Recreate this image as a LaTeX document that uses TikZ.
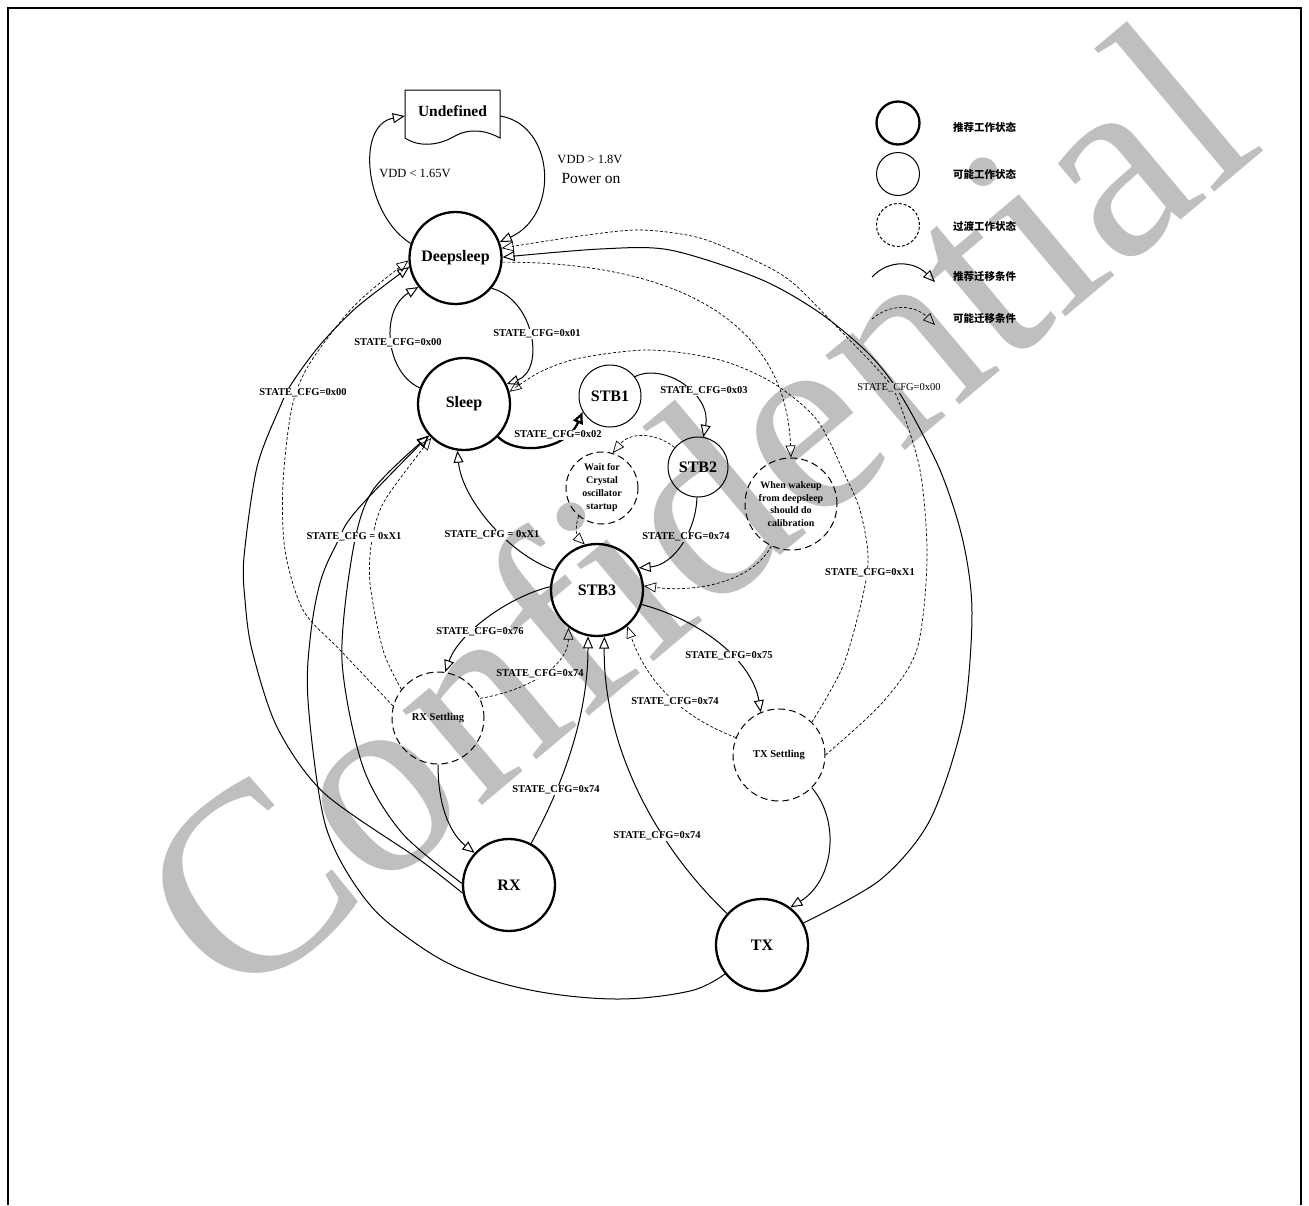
\documentclass[tikz,border=0pt]{standalone}
\usepackage{fontspec}
\setmainfont{Liberation Serif}
\newfontfamily\cjk{Noto Sans CJK SC}
\usetikzlibrary{arrows.meta}

\tikzset{
  recstate/.style={circle, draw, line width=2.3pt, minimum size=92pt, inner sep=0pt,
    font=\bfseries\fontsize{16}{18}\selectfont},
  posstate/.style={recstate, line width=1pt},
  tmpstate/.style={recstate, line width=1pt, dash pattern=on 7pt off 4pt, align=center,
    font=\bfseries\fontsize{10}{13}\selectfont},
  rectrans/.style={line width=1pt, -{Triangle[open, length=12pt, width=10pt]}},
  postrans/.style={rectrans, line width=0.7pt, dash pattern=on 3pt off 2pt},
  cfg/.style={fill=white, inner sep=1pt, font=\bfseries\fontsize{10.5}{12}\selectfont},
  legtext/.style={anchor=west, inner sep=0pt, font=\cjk\bfseries\fontsize{10.5}{12}\selectfont},
}

\begin{document}
\begin{tikzpicture}[x=1pt, y=-1pt]
\useasboundingbox (0,0) rectangle (1309,1205);
\draw[line width=2pt] (8,1205) -- (8,8) -- (1301,8) -- (1301,1205);

% states
\node[font=\bfseries\fontsize{15.5}{18}\selectfont, minimum width=95pt, minimum height=48pt] (undef) at (452.5,111) {Undefined};
\draw[line width=1pt] (405,90) -- (500,90) -- (500,138) .. controls (485,130) and (470,128) .. (455,136)
  .. controls (440,145) and (420,148) .. (405,138) -- cycle;
\node[recstate] (deep) at (455.5,258) {Deepsleep};
\node[recstate] (sleep) at (464,404) {Sleep};
\node[posstate, minimum size=62pt] (stbone) at (610,396) {STB1};
\node[posstate, minimum size=60pt] (stbtwo) at (698,467) {STB2};
\node[tmpstate, minimum size=72pt] (wait) at (602,488) {Wait for\\Crystal\\oscillator\\startup};
\node[tmpstate, font=\bfseries\fontsize{10}{12.7}\selectfont] (wake) at (791,504) {When wakeup\\from deepsleep\\should do\\calibration};
\node[recstate] (stbthree) at (597,590) {STB3};
\node[tmpstate, font=\bfseries\fontsize{10.5}{12}\selectfont] (rxs) at (438,718) {RX Settling};
\node[tmpstate, font=\bfseries\fontsize{10.5}{12}\selectfont] (txs) at (779,755) {TX Settling};
\node[recstate] (rx) at (509,885) {RX};
\node[recstate] (tx) at (762,945) {TX};

% power on / off
\draw[rectrans] (deep.162) .. controls (365,215) and (355,125) .. (undef.186);
\draw[rectrans] (undef.-6) .. controls (555,125) and (560,215) .. (deep.20);
\node[font=\fontsize{12.5}{15}\selectfont] (vlow) at (415,173) {VDD < 1.65V};
\node[font=\fontsize{12.5}{15}\selectfont] (vhigh) at (590,159) {VDD > 1.8V};
\node[font=\fontsize{15.5}{18}\selectfont] (pwron) at (591,178) {Power on};

% upper part
\draw[rectrans] (sleep.160) .. controls (385,372) and (380,310) .. (deep.218);
\draw[rectrans] (deep.-40) .. controls (535,300) and (545,370) .. (sleep.25);
\draw[rectrans, line width=2.3pt] (sleep.-44) .. controls (515,455) and (565,452) .. (stbone.210);
\draw[rectrans] (stbone.38) .. controls (665,362) and (712,395) .. (stbtwo.80);
\draw[postrans] (stbtwo.140) .. controls (655,432) and (630,432) .. (wait.73);
\draw[postrans] (wait.230) .. controls (574,530) and (578,538) .. (stbthree.105);
\draw[rectrans] (stbtwo.268) .. controls (696,530) and (675,565) .. (stbthree.28);
\draw[postrans] (wake.245) .. controls (750,585) and (690,592) .. (stbthree.5);
\draw[postrans] (deep.-5) .. controls (640,262) and (785,300) .. (wake.90);

% long ones, right
\draw[rectrans] plot[smooth] coordinates {(tx.28) (880,880) (930,820) (963,720) (972,613) (963,541) (940,470)
  (902,397) (870,355) (820,313) (760,279) (670,250) (600,249) (deep.1)};
\draw[postrans] plot[smooth] coordinates {(txs.0) (883,702) (917,649) (927,559) (920,470) (897,397) (880,372)
  (835,325) (793,283) (760,263) (700,238) (640,230) (580,236) (deep.12)};
\draw[postrans] plot[smooth] coordinates {(txs.45) (843,666) (863,595) (868,555) (860,510) (845,475) (817,420)
  (773,383) (720,360) (650,350) (580,358) (540,372) (sleep.15)};

% long ones, left
\draw[rectrans] plot[smooth] coordinates {(rx.190) (420,860) (324,793) (277,727) (252,650) (245,600) (244,557)
  (257,467) (280,407) (292,383) (320,345) (357,307) (deep.191)};
\draw[postrans] plot[smooth] coordinates {(rxs.165) (340,650) (303,610) (285,550) (283,483) (292,407) (310,363)
  (355,305) (deep.183)};
\draw[rectrans] plot[smooth, tension=0.6] coordinates {(tx.218) (690,991) (616,999) (530,990) (456,967) (400,932)
  (366,900) (335,850) (320,800) (308,700) (310,640) (320,583) (337,543) (357,510) (sleep.222)};
\draw[rectrans] plot[smooth] coordinates {(rx.178) (402,833) (363,767) (342,660) (353,550) (373,490) (sleep.222)};
\draw[postrans] plot[smooth] coordinates {(rxs.142) (383,650) (370,583) (372,540) (385,500) (sleep.226)};

% around STB3
\draw[rectrans] (stbthree.155) .. controls (510,555) and (462,500) .. (sleep.262);
\draw[rectrans] (stbthree.176) .. controls (505,598) and (458,635) .. (rxs.81);
\draw[postrans] (rxs.25) .. controls (530,690) and (568,665) .. (stbthree.233);
\draw[rectrans] (rx.62) .. controls (560,790) and (588,720) .. (stbthree.259);
\draw[rectrans] (tx.138) .. controls (650,840) and (603,740) .. (stbthree.279);
\draw[postrans] (txs.158) .. controls (690,720) and (650,690) .. (stbthree.310);
\draw[rectrans] (stbthree.-18) .. controls (700,620) and (752,660) .. (txs.113);
\draw[rectrans] (txs.-45) .. controls (840,820) and (835,880) .. (tx.53);
\draw[rectrans] (rxs.-90) .. controls (438,810) and (452,835) .. (rx.137);

% conditions
\node[cfg] (cfga) at (398,343) {STATE\_CFG=0x00};
\node[cfg] (cfgb) at (537,334) {STATE\_CFG=0x01};
\node[cfg] (cfgc) at (558,435) {STATE\_CFG=0x02};
\node[cfg] (cfgd) at (704,391) {STATE\_CFG=0x03};
\node[cfg] (cfge) at (686,537) {STATE\_CFG=0x74};
\node[cfg] (cfgf) at (303,393) {STATE\_CFG=0x00};
\node[cfg] (cfgg) at (354,537) {STATE\_CFG = 0xX1};
\node[cfg] (cfgh) at (492,535) {STATE\_CFG = 0xX1};
\node[cfg] (cfgi) at (480,632) {STATE\_CFG=0x76};
\node[cfg] (cfgj) at (540,674) {STATE\_CFG=0x74};
\node[cfg] (cfgk) at (729,656) {STATE\_CFG=0x75};
\node[cfg] (cfgl) at (675,702) {STATE\_CFG=0x74};
\node[cfg] (cfgm) at (556,790) {STATE\_CFG=0x74};
\node[cfg] (cfgn) at (657,836) {STATE\_CFG=0x74};
\node[cfg] (cfgo) at (870,573) {STATE\_CFG=0xX1};
\node[cfg, font=\fontsize{10.5}{12}\selectfont] (cfgp) at (899,388) {STATE\_CFG=0x00};

% legend
\node[recstate, minimum size=43pt] (lgrec) at (898,123) {};
\node[posstate, minimum size=43pt] (lgpos) at (898,174) {};
\node[tmpstate, minimum size=43pt, dash pattern=on 3pt off 2pt] (lgtmp) at (898,225) {};
\coordinate (lga) at (872,277);
\coordinate (lgb) at (935,282);
\draw[rectrans] (lga) .. controls (890,258) and (915,262) .. (lgb);
\coordinate (lgc) at (872,319);
\coordinate (lgd) at (935,325);
\draw[postrans] (lgc) .. controls (890,303) and (915,305) .. (lgd);
\node[legtext] (lta) at (953,127) {推荐工作状态};
\node[legtext] (ltb) at (953,174) {可能工作状态};
\node[legtext] (ltc) at (953,226) {过渡工作状态};
\node[legtext] (ltd) at (953,277) {推荐迁移条件};
\node[legtext] (lte) at (953,319) {可能迁移条件};

% watermark
\begin{scope}[blend mode=multiply]
\node[text=black!25, rotate=40, font=\fontsize{269}{269}\selectfont] (mark) at (692,508) {Confidential};
\end{scope}
\end{tikzpicture}
\end{document}
